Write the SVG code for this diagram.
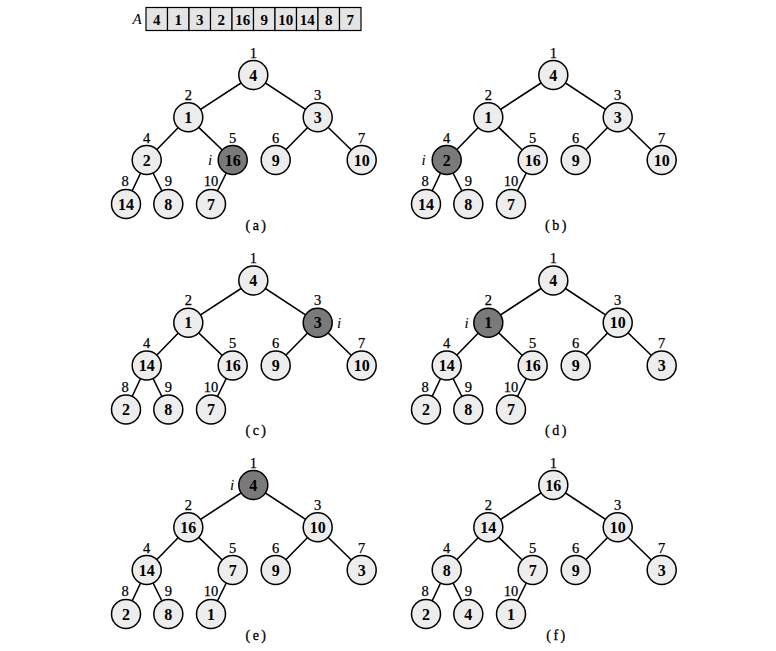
<svg xmlns="http://www.w3.org/2000/svg" width="776" height="651" viewBox="0 0 776 651">
<style>
.bg{fill:#ffffff}
.cell{fill:#e4e4e4;stroke:#000;stroke-width:1.2}
.edge{stroke:#000;stroke-width:1.6;fill:none}
.nd{fill:#ededed;stroke:#000;stroke-width:1.5}
.dk{fill:#7a7a7a;stroke:#000;stroke-width:1.5}
.v{font-family:"Liberation Serif","DejaVu Serif",serif;font-weight:bold;font-size:16px;text-anchor:middle;fill:#000}
.ix{font-family:"Liberation Serif","DejaVu Serif",serif;font-size:14.5px;text-anchor:middle;fill:#000;stroke:#000;stroke-width:0.25}
.it{font-family:"Liberation Serif","DejaVu Serif",serif;font-style:italic;font-size:15px;text-anchor:middle;fill:#000}
.cap{font-family:"Liberation Serif","DejaVu Serif",serif;font-size:14px;text-anchor:middle;letter-spacing:2.5px;fill:#000;stroke:#000;stroke-width:0.3}
.av{font-family:"Liberation Serif","DejaVu Serif",serif;font-weight:bold;font-size:15px;text-anchor:middle;fill:#000}
</style>
<rect class="bg" x="0" y="0" width="776" height="651"/>
<g id="array">
<text class="it" x="137" y="24">A</text>
<rect class="cell" x="146" y="7.5" width="21.5" height="23"/>
<rect class="cell" x="167.5" y="7.5" width="21.5" height="23"/>
<rect class="cell" x="189" y="7.5" width="21.5" height="23"/>
<rect class="cell" x="210.5" y="7.5" width="21.5" height="23"/>
<rect class="cell" x="232" y="7.5" width="21.5" height="23"/>
<rect class="cell" x="253.5" y="7.5" width="21.5" height="23"/>
<rect class="cell" x="275" y="7.5" width="21.5" height="23"/>
<rect class="cell" x="296.5" y="7.5" width="21.5" height="23"/>
<rect class="cell" x="318" y="7.5" width="21.5" height="23"/>
<rect class="cell" x="339.5" y="7.5" width="21.5" height="23"/>
<text class="av" x="156.8" y="25">4</text>
<text class="av" x="178.3" y="25">1</text>
<text class="av" x="199.8" y="25">3</text>
<text class="av" x="221.3" y="25">2</text>
<text class="av" x="242.8" y="25">16</text>
<text class="av" x="264.3" y="25">9</text>
<text class="av" x="285.8" y="25">10</text>
<text class="av" x="307.3" y="25">14</text>
<text class="av" x="328.8" y="25">8</text>
<text class="av" x="350.3" y="25">7</text>
</g>

<!-- Tree (a) -->
<g id="tree-a">
<g id="edges-a">
<line class="edge" x1="253.3" y1="75" x2="188.3" y2="117.3"/>
<line class="edge" x1="253.3" y1="75" x2="317.7" y2="117.3"/>
<line class="edge" x1="188.3" y1="117.3" x2="146.7" y2="160"/>
<line class="edge" x1="188.3" y1="117.3" x2="232.7" y2="160"/>
<line class="edge" x1="317.7" y1="117.3" x2="275.7" y2="160"/>
<line class="edge" x1="317.7" y1="117.3" x2="361.7" y2="160"/>
<line class="edge" x1="146.7" y1="160" x2="126" y2="204"/>
<line class="edge" x1="146.7" y1="160" x2="168.3" y2="204"/>
<line class="edge" x1="232.7" y1="160" x2="211" y2="204"/>
</g>
<g id="a-n1"><circle class="nd" cx="253.3" cy="75" r="14.5"/><text class="v" x="253.3" y="80.5">4</text><text class="ix" x="253.3" y="57.5">1</text></g>
<g id="a-n2"><circle class="nd" cx="188.3" cy="117.3" r="14.5"/><text class="v" x="188.3" y="122.8">1</text><text class="ix" x="188.3" y="99.8">2</text></g>
<g id="a-n3"><circle class="nd" cx="317.7" cy="117.3" r="14.5"/><text class="v" x="317.7" y="122.8">3</text><text class="ix" x="317.7" y="99.8">3</text></g>
<g id="a-n4"><circle class="nd" cx="146.7" cy="160" r="14.5"/><text class="v" x="146.7" y="165.5">2</text><text class="ix" x="146.7" y="142.5">4</text></g>
<g id="a-n5"><circle class="dk" cx="232.7" cy="160" r="14.5"/><text class="v" x="232.7" y="165.5">16</text><text class="ix" x="232.7" y="142.5">5</text><text class="it" x="210" y="165">i</text></g>
<g id="a-n6"><circle class="nd" cx="275.7" cy="160" r="14.5"/><text class="v" x="275.7" y="165.5">9</text><text class="ix" x="275.7" y="142.5">6</text></g>
<g id="a-n7"><circle class="nd" cx="361.7" cy="160" r="14.5"/><text class="v" x="361.7" y="165.5">10</text><text class="ix" x="361.7" y="142.5">7</text></g>
<g id="a-n8"><circle class="nd" cx="126" cy="204" r="14.5"/><text class="v" x="126" y="209.5">14</text><text class="ix" x="125" y="186">8</text></g>
<g id="a-n9"><circle class="nd" cx="168.3" cy="204" r="14.5"/><text class="v" x="168.3" y="209.5">8</text><text class="ix" x="168.3" y="186">9</text></g>
<g id="a-n10"><circle class="nd" cx="211" cy="204" r="14.5"/><text class="v" x="211" y="209.5">7</text><text class="ix" x="211" y="186">10</text></g>
<text class="cap" x="257" y="229.5">(a)</text>
</g>

<!-- Tree (b) -->
<g id="tree-b" transform="translate(300,0)">
<g id="edges-b">
<line class="edge" x1="253.3" y1="75" x2="188.3" y2="117.3"/>
<line class="edge" x1="253.3" y1="75" x2="317.7" y2="117.3"/>
<line class="edge" x1="188.3" y1="117.3" x2="146.7" y2="160"/>
<line class="edge" x1="188.3" y1="117.3" x2="232.7" y2="160"/>
<line class="edge" x1="317.7" y1="117.3" x2="275.7" y2="160"/>
<line class="edge" x1="317.7" y1="117.3" x2="361.7" y2="160"/>
<line class="edge" x1="146.7" y1="160" x2="126" y2="204"/>
<line class="edge" x1="146.7" y1="160" x2="168.3" y2="204"/>
<line class="edge" x1="232.7" y1="160" x2="211" y2="204"/>
</g>
<g id="b-n1"><circle class="nd" cx="253.3" cy="75" r="14.5"/><text class="v" x="253.3" y="80.5">4</text><text class="ix" x="253.3" y="57.5">1</text></g>
<g id="b-n2"><circle class="nd" cx="188.3" cy="117.3" r="14.5"/><text class="v" x="188.3" y="122.8">1</text><text class="ix" x="188.3" y="99.8">2</text></g>
<g id="b-n3"><circle class="nd" cx="317.7" cy="117.3" r="14.5"/><text class="v" x="317.7" y="122.8">3</text><text class="ix" x="317.7" y="99.8">3</text></g>
<g id="b-n4"><circle class="dk" cx="146.7" cy="160" r="14.5"/><text class="v" x="146.7" y="165.5">2</text><text class="ix" x="146.7" y="142.5">4</text><text class="it" x="123.5" y="165">i</text></g>
<g id="b-n5"><circle class="nd" cx="232.7" cy="160" r="14.5"/><text class="v" x="232.7" y="165.5">16</text><text class="ix" x="232.7" y="142.5">5</text></g>
<g id="b-n6"><circle class="nd" cx="275.7" cy="160" r="14.5"/><text class="v" x="275.7" y="165.5">9</text><text class="ix" x="275.7" y="142.5">6</text></g>
<g id="b-n7"><circle class="nd" cx="361.7" cy="160" r="14.5"/><text class="v" x="361.7" y="165.5">10</text><text class="ix" x="361.7" y="142.5">7</text></g>
<g id="b-n8"><circle class="nd" cx="126" cy="204" r="14.5"/><text class="v" x="126" y="209.5">14</text><text class="ix" x="125" y="186">8</text></g>
<g id="b-n9"><circle class="nd" cx="168.3" cy="204" r="14.5"/><text class="v" x="168.3" y="209.5">8</text><text class="ix" x="168.3" y="186">9</text></g>
<g id="b-n10"><circle class="nd" cx="211" cy="204" r="14.5"/><text class="v" x="211" y="209.5">7</text><text class="ix" x="211" y="186">10</text></g>
<text class="cap" x="257" y="229.5">(b)</text>
</g>

<!-- Tree (c) -->
<g id="tree-c" transform="translate(0,205.5)">
<g id="edges-c">
<line class="edge" x1="253.3" y1="75" x2="188.3" y2="117.3"/>
<line class="edge" x1="253.3" y1="75" x2="317.7" y2="117.3"/>
<line class="edge" x1="188.3" y1="117.3" x2="146.7" y2="160"/>
<line class="edge" x1="188.3" y1="117.3" x2="232.7" y2="160"/>
<line class="edge" x1="317.7" y1="117.3" x2="275.7" y2="160"/>
<line class="edge" x1="317.7" y1="117.3" x2="361.7" y2="160"/>
<line class="edge" x1="146.7" y1="160" x2="126" y2="204"/>
<line class="edge" x1="146.7" y1="160" x2="168.3" y2="204"/>
<line class="edge" x1="232.7" y1="160" x2="211" y2="204"/>
</g>
<g id="c-n1"><circle class="nd" cx="253.3" cy="75" r="14.5"/><text class="v" x="253.3" y="80.5">4</text><text class="ix" x="253.3" y="57.5">1</text></g>
<g id="c-n2"><circle class="nd" cx="188.3" cy="117.3" r="14.5"/><text class="v" x="188.3" y="122.8">1</text><text class="ix" x="188.3" y="99.8">2</text></g>
<g id="c-n3"><circle class="dk" cx="317.7" cy="117.3" r="14.5"/><text class="v" x="317.7" y="122.8">3</text><text class="ix" x="317.7" y="99.8">3</text><text class="it" x="339" y="122.3">i</text></g>
<g id="c-n4"><circle class="nd" cx="146.7" cy="160" r="14.5"/><text class="v" x="146.7" y="165.5">14</text><text class="ix" x="146.7" y="142.5">4</text></g>
<g id="c-n5"><circle class="nd" cx="232.7" cy="160" r="14.5"/><text class="v" x="232.7" y="165.5">16</text><text class="ix" x="232.7" y="142.5">5</text></g>
<g id="c-n6"><circle class="nd" cx="275.7" cy="160" r="14.5"/><text class="v" x="275.7" y="165.5">9</text><text class="ix" x="275.7" y="142.5">6</text></g>
<g id="c-n7"><circle class="nd" cx="361.7" cy="160" r="14.5"/><text class="v" x="361.7" y="165.5">10</text><text class="ix" x="361.7" y="142.5">7</text></g>
<g id="c-n8"><circle class="nd" cx="126" cy="204" r="14.5"/><text class="v" x="126" y="209.5">2</text><text class="ix" x="125" y="186">8</text></g>
<g id="c-n9"><circle class="nd" cx="168.3" cy="204" r="14.5"/><text class="v" x="168.3" y="209.5">8</text><text class="ix" x="168.3" y="186">9</text></g>
<g id="c-n10"><circle class="nd" cx="211" cy="204" r="14.5"/><text class="v" x="211" y="209.5">7</text><text class="ix" x="211" y="186">10</text></g>
<text class="cap" x="257" y="229.5">(c)</text>
</g>

<!-- Tree (d) -->
<g id="tree-d" transform="translate(300,205.5)">
<g id="edges-d">
<line class="edge" x1="253.3" y1="75" x2="188.3" y2="117.3"/>
<line class="edge" x1="253.3" y1="75" x2="317.7" y2="117.3"/>
<line class="edge" x1="188.3" y1="117.3" x2="146.7" y2="160"/>
<line class="edge" x1="188.3" y1="117.3" x2="232.7" y2="160"/>
<line class="edge" x1="317.7" y1="117.3" x2="275.7" y2="160"/>
<line class="edge" x1="317.7" y1="117.3" x2="361.7" y2="160"/>
<line class="edge" x1="146.7" y1="160" x2="126" y2="204"/>
<line class="edge" x1="146.7" y1="160" x2="168.3" y2="204"/>
<line class="edge" x1="232.7" y1="160" x2="211" y2="204"/>
</g>
<g id="d-n1"><circle class="nd" cx="253.3" cy="75" r="14.5"/><text class="v" x="253.3" y="80.5">4</text><text class="ix" x="253.3" y="57.5">1</text></g>
<g id="d-n2"><circle class="dk" cx="188.3" cy="117.3" r="14.5"/><text class="v" x="188.3" y="122.8">1</text><text class="ix" x="188.3" y="99.8">2</text><text class="it" x="166.5" y="122.3">i</text></g>
<g id="d-n3"><circle class="nd" cx="317.7" cy="117.3" r="14.5"/><text class="v" x="317.7" y="122.8">10</text><text class="ix" x="317.7" y="99.8">3</text></g>
<g id="d-n4"><circle class="nd" cx="146.7" cy="160" r="14.5"/><text class="v" x="146.7" y="165.5">14</text><text class="ix" x="146.7" y="142.5">4</text></g>
<g id="d-n5"><circle class="nd" cx="232.7" cy="160" r="14.5"/><text class="v" x="232.7" y="165.5">16</text><text class="ix" x="232.7" y="142.5">5</text></g>
<g id="d-n6"><circle class="nd" cx="275.7" cy="160" r="14.5"/><text class="v" x="275.7" y="165.5">9</text><text class="ix" x="275.7" y="142.5">6</text></g>
<g id="d-n7"><circle class="nd" cx="361.7" cy="160" r="14.5"/><text class="v" x="361.7" y="165.5">3</text><text class="ix" x="361.7" y="142.5">7</text></g>
<g id="d-n8"><circle class="nd" cx="126" cy="204" r="14.5"/><text class="v" x="126" y="209.5">2</text><text class="ix" x="125" y="186">8</text></g>
<g id="d-n9"><circle class="nd" cx="168.3" cy="204" r="14.5"/><text class="v" x="168.3" y="209.5">8</text><text class="ix" x="168.3" y="186">9</text></g>
<g id="d-n10"><circle class="nd" cx="211" cy="204" r="14.5"/><text class="v" x="211" y="209.5">7</text><text class="ix" x="211" y="186">10</text></g>
<text class="cap" x="257" y="229.5">(d)</text>
</g>

<!-- Tree (e) -->
<g id="tree-e" transform="translate(0,410)">
<g id="edges-e">
<line class="edge" x1="253.3" y1="75" x2="188.3" y2="117.3"/>
<line class="edge" x1="253.3" y1="75" x2="317.7" y2="117.3"/>
<line class="edge" x1="188.3" y1="117.3" x2="146.7" y2="160"/>
<line class="edge" x1="188.3" y1="117.3" x2="232.7" y2="160"/>
<line class="edge" x1="317.7" y1="117.3" x2="275.7" y2="160"/>
<line class="edge" x1="317.7" y1="117.3" x2="361.7" y2="160"/>
<line class="edge" x1="146.7" y1="160" x2="126" y2="204"/>
<line class="edge" x1="146.7" y1="160" x2="168.3" y2="204"/>
<line class="edge" x1="232.7" y1="160" x2="211" y2="204"/>
</g>
<g id="e-n1"><circle class="dk" cx="253.3" cy="75" r="14.5"/><text class="v" x="253.3" y="80.5">4</text><text class="ix" x="253.3" y="57.5">1</text><text class="it" x="232" y="80">i</text></g>
<g id="e-n2"><circle class="nd" cx="188.3" cy="117.3" r="14.5"/><text class="v" x="188.3" y="122.8">16</text><text class="ix" x="188.3" y="99.8">2</text></g>
<g id="e-n3"><circle class="nd" cx="317.7" cy="117.3" r="14.5"/><text class="v" x="317.7" y="122.8">10</text><text class="ix" x="317.7" y="99.8">3</text></g>
<g id="e-n4"><circle class="nd" cx="146.7" cy="160" r="14.5"/><text class="v" x="146.7" y="165.5">14</text><text class="ix" x="146.7" y="142.5">4</text></g>
<g id="e-n5"><circle class="nd" cx="232.7" cy="160" r="14.5"/><text class="v" x="232.7" y="165.5">7</text><text class="ix" x="232.7" y="142.5">5</text></g>
<g id="e-n6"><circle class="nd" cx="275.7" cy="160" r="14.5"/><text class="v" x="275.7" y="165.5">9</text><text class="ix" x="275.7" y="142.5">6</text></g>
<g id="e-n7"><circle class="nd" cx="361.7" cy="160" r="14.5"/><text class="v" x="361.7" y="165.5">3</text><text class="ix" x="361.7" y="142.5">7</text></g>
<g id="e-n8"><circle class="nd" cx="126" cy="204" r="14.5"/><text class="v" x="126" y="209.5">2</text><text class="ix" x="125" y="186">8</text></g>
<g id="e-n9"><circle class="nd" cx="168.3" cy="204" r="14.5"/><text class="v" x="168.3" y="209.5">8</text><text class="ix" x="168.3" y="186">9</text></g>
<g id="e-n10"><circle class="nd" cx="211" cy="204" r="14.5"/><text class="v" x="211" y="209.5">1</text><text class="ix" x="211" y="186">10</text></g>
<text class="cap" x="257" y="229.5">(e)</text>
</g>

<!-- Tree (f) -->
<g id="tree-f" transform="translate(300,410)">
<g id="edges-f">
<line class="edge" x1="253.3" y1="75" x2="188.3" y2="117.3"/>
<line class="edge" x1="253.3" y1="75" x2="317.7" y2="117.3"/>
<line class="edge" x1="188.3" y1="117.3" x2="146.7" y2="160"/>
<line class="edge" x1="188.3" y1="117.3" x2="232.7" y2="160"/>
<line class="edge" x1="317.7" y1="117.3" x2="275.7" y2="160"/>
<line class="edge" x1="317.7" y1="117.3" x2="361.7" y2="160"/>
<line class="edge" x1="146.7" y1="160" x2="126" y2="204"/>
<line class="edge" x1="146.7" y1="160" x2="168.3" y2="204"/>
<line class="edge" x1="232.7" y1="160" x2="211" y2="204"/>
</g>
<g id="f-n1"><circle class="nd" cx="253.3" cy="75" r="14.5"/><text class="v" x="253.3" y="80.5">16</text><text class="ix" x="253.3" y="57.5">1</text></g>
<g id="f-n2"><circle class="nd" cx="188.3" cy="117.3" r="14.5"/><text class="v" x="188.3" y="122.8">14</text><text class="ix" x="188.3" y="99.8">2</text></g>
<g id="f-n3"><circle class="nd" cx="317.7" cy="117.3" r="14.5"/><text class="v" x="317.7" y="122.8">10</text><text class="ix" x="317.7" y="99.8">3</text></g>
<g id="f-n4"><circle class="nd" cx="146.7" cy="160" r="14.5"/><text class="v" x="146.7" y="165.5">8</text><text class="ix" x="146.7" y="142.5">4</text></g>
<g id="f-n5"><circle class="nd" cx="232.7" cy="160" r="14.5"/><text class="v" x="232.7" y="165.5">7</text><text class="ix" x="232.7" y="142.5">5</text></g>
<g id="f-n6"><circle class="nd" cx="275.7" cy="160" r="14.5"/><text class="v" x="275.7" y="165.5">9</text><text class="ix" x="275.7" y="142.5">6</text></g>
<g id="f-n7"><circle class="nd" cx="361.7" cy="160" r="14.5"/><text class="v" x="361.7" y="165.5">3</text><text class="ix" x="361.7" y="142.5">7</text></g>
<g id="f-n8"><circle class="nd" cx="126" cy="204" r="14.5"/><text class="v" x="126" y="209.5">2</text><text class="ix" x="125" y="186">8</text></g>
<g id="f-n9"><circle class="nd" cx="168.3" cy="204" r="14.5"/><text class="v" x="168.3" y="209.5">4</text><text class="ix" x="168.3" y="186">9</text></g>
<g id="f-n10"><circle class="nd" cx="211" cy="204" r="14.5"/><text class="v" x="211" y="209.5">1</text><text class="ix" x="211" y="186">10</text></g>
<text class="cap" x="257" y="229.5">(f)</text>
</g>
</svg>
